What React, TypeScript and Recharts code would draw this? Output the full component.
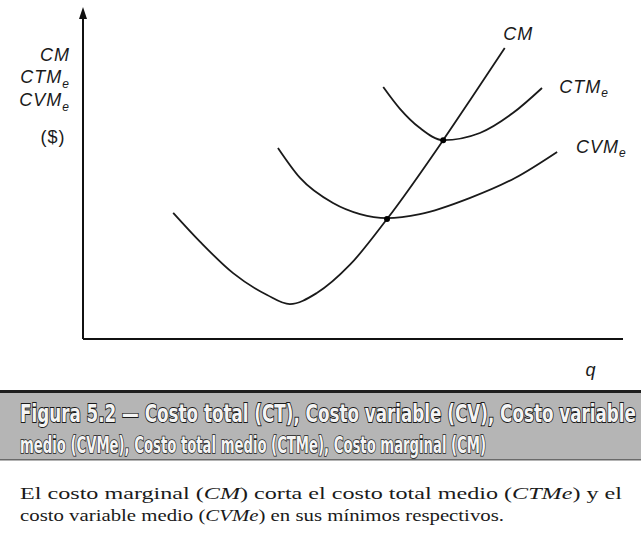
import React from "react";
import { ComposedChart, Line, XAxis, YAxis, ReferenceDot, ReferenceLine } from "recharts";

// Quantity (q) and cost values (arbitrary units, 0-100)
const cmQ = [16.7, 21.7, 27.8, 34.1, 38.3, 43.3, 49.4, 56.3, 66.7, 71.7, 78.1];
const cmCost = [38.7, 29.8, 20.2, 13.5, 10.7, 14.1, 22.7, 36.8, 61.0, 73.3, 89.3];

const cvmeQ = [36.1, 40.2, 46.3, 51.3, 56.3, 62.4, 71.7, 80.0, 87.8];
const cvmeCost = [58.6, 49.4, 41.7, 38.3, 37.1, 38.3, 43.3, 49.4, 57.4];

const ctmeQ = [55.6, 58.7, 62.4, 66.7, 73.5, 79.6, 85.0];
const ctmeCost = [77.3, 70.6, 64.7, 61.0, 63.2, 69.3, 77.0];

const yTitle = ["CM", "CTM", "CVM", "($)"];
const xTitle = "q";
const bannerLines = [
  "Figura 5.2 — Costo total (CT), Costo variable (CV), Costo variable",
  "medio (CVMe), Costo total medio (CTMe), Costo marginal (CM)",
];

const toRows = (qs: number[], cs: number[]) => qs.map((q, i) => ({ q, c: cs[i] }));
const cmData = toRows(cmQ, cmCost);
const cvmeData = toRows(cvmeQ, cvmeCost);
const ctmeData = toRows(ctmeQ, ctmeCost);

const labelFont = "'Liberation Sans', Arial, sans-serif";

const CurveLabel = (props: any) => {
  const { cx, cy, main, sub, anchor } = props;
  return (
    <text
      x={cx}
      y={cy}
      textAnchor={anchor || "start"}
      dominantBaseline="central"
      fontFamily={labelFont}
      fontStyle="italic"
      fontSize={18}
      letterSpacing={1}
      fill="#1a1a1a"
    >
      {main}
      {sub ? (
        <tspan fontSize={12} dy={6}>
          {sub}
        </tspan>
      ) : null}
    </text>
  );
};

const Arrow = (props: any) => {
  const { cx, cy } = props;
  return <path d={`M${cx},${cy - 6} L${cx - 4},${cy + 6} L${cx + 4},${cy + 6} Z`} fill="#111" />;
};

export default function App() {
  return (
    <div style={{ position: "absolute", left: 0, top: 0, width: 641, height: 541, background: "#fff" }}>
      <ComposedChart
        width={641}
        height={380}
        margin={{ top: 13, right: 18, bottom: 41, left: 83 }}
        style={{ position: "absolute", left: 0, top: 0 }}
      >
        <XAxis type="number" dataKey="q" domain={[0, 100]} hide allowDataOverflow />
        <YAxis type="number" dataKey="c" domain={[0, 100]} hide allowDataOverflow />
        <ReferenceLine x={0} stroke="#111" strokeWidth={2} ifOverflow="visible" />
        <ReferenceLine y={0} stroke="#111" strokeWidth={2} ifOverflow="visible" />
        <Line
          data={cmData}
          dataKey="c"
          type="monotone"
          stroke="#1a1a1a"
          strokeWidth={1.8}
          dot={false}
          isAnimationActive={false}
        />
        <Line
          data={cvmeData}
          dataKey="c"
          type="monotone"
          stroke="#1a1a1a"
          strokeWidth={1.8}
          dot={false}
          isAnimationActive={false}
        />
        <Line
          data={ctmeData}
          dataKey="c"
          type="monotone"
          stroke="#1a1a1a"
          strokeWidth={1.8}
          dot={false}
          isAnimationActive={false}
        />
        <ReferenceDot x={cmQ[7]} y={cmCost[7]} r={3} fill="#000" stroke="none" />
        <ReferenceDot x={cmQ[8]} y={cmCost[8]} r={3} fill="#000" stroke="none" />
        <ReferenceDot x={0} y={100} ifOverflow="visible" shape={(p: any) => <Arrow {...p} />} />
        <ReferenceDot
          x={80.6}
          y={93.6}
          ifOverflow="visible"
          shape={(p: any) => <CurveLabel {...p} main="CM" anchor="middle" />}
        />
        <ReferenceDot
          x={88.2}
          y={77.3}
          ifOverflow="visible"
          shape={(p: any) => <CurveLabel {...p} main="CTM" sub="e" />}
        />
        <ReferenceDot
          x={91.3}
          y={58.9}
          ifOverflow="visible"
          shape={(p: any) => <CurveLabel {...p} main="CVM" sub="e" />}
        />
      </ComposedChart>

      <svg width={641} height={541} style={{ position: "absolute", left: 0, top: 0, pointerEvents: "none" }}>
        {/* Y axis title */}
        <g fontFamily={labelFont} fontStyle="italic" fontSize={18} letterSpacing={1} fill="#1a1a1a">
          <text x={70} y={61} textAnchor="end">{yTitle[0]}</text>
          <text x={70} y={83} textAnchor="end">
            {yTitle[1]}
            <tspan fontSize={12} dy={5}>e</tspan>
          </text>
          <text x={70} y={106} textAnchor="end">
            {yTitle[2]}
            <tspan fontSize={12} dy={5}>e</tspan>
          </text>
          <text x={53} y={143} textAnchor="middle" fontStyle="normal">{yTitle[3]}</text>
          <text x={591} y={376} textAnchor="middle">{xTitle}</text>
        </g>

        {/* Figure banner */}
        <rect x={0} y={391} width={641} height={69} fill="#b5b5b5" />
        <rect x={0} y={390} width={641} height={3} fill="#1e1e1e" />
        <rect x={0} y={459} width={641} height={1.5} fill="#6a6a6a" />
        <g
          fontFamily="'Liberation Sans Narrow', 'DejaVu Sans Condensed', sans-serif"
          fontWeight="bold"
          fontSize={17}
          fill="#f4f4f4"
          stroke="#1a1a1a"
          strokeWidth={1.3}
          style={{ paintOrder: "stroke" } as any}
        >
          <text
            x={0}
            y={0}
            transform="translate(20,422) scale(1,1.45)"
            textLength={616}
            lengthAdjust="spacingAndGlyphs"
          >
            {bannerLines[0]}
          </text>
          <text
            x={0}
            y={0}
            transform="translate(20,453) scale(1,1.3)"
            textLength={466}
            lengthAdjust="spacingAndGlyphs"
          >
            {bannerLines[1]}
          </text>
        </g>

        {/* Caption */}
        <g fontFamily="'Liberation Serif', 'Times New Roman', serif" fontSize={17} fill="#1a1a1a">
          <text x={20} y={499} textLength={602} lengthAdjust="spacingAndGlyphs">
            El costo marginal (<tspan fontStyle="italic">CM</tspan>) corta el costo total medio (
            <tspan fontStyle="italic">CTMe</tspan>) y el
          </text>
          <text x={20} y={521} textLength={484} lengthAdjust="spacingAndGlyphs">
            costo variable medio (<tspan fontStyle="italic">CVMe</tspan>) en sus mínimos respectivos.
          </text>
        </g>
      </svg>
    </div>
  );
}
